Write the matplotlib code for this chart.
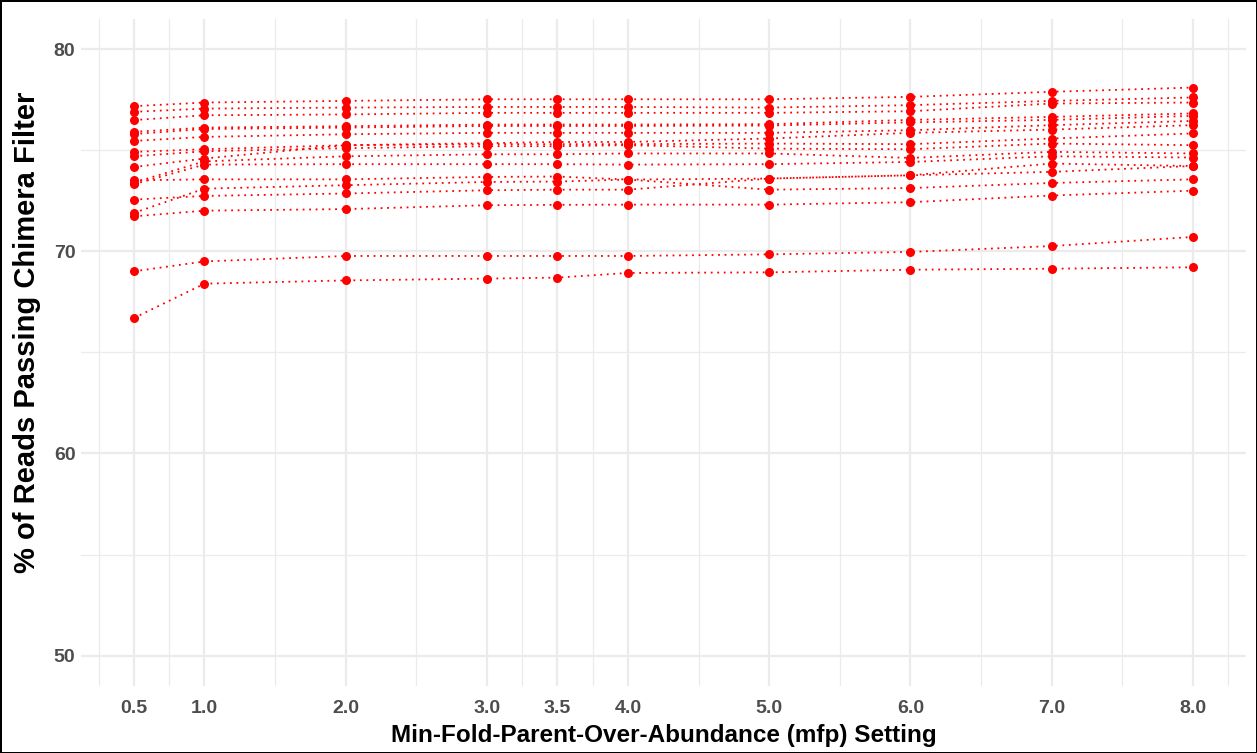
import numpy as np
import matplotlib.pyplot as plt
from matplotlib.ticker import FixedLocator

# mfp settings on the x axis
mfp = [0.5, 1.0, 2.0, 3.0, 3.5, 4.0, 5.0, 6.0, 7.0, 8.0]
mfp_labels = ["0.5", "1.0", "2.0", "3.0", "3.5", "4.0", "5.0", "6.0", "7.0", "8.0"]

# % of reads passing chimera filter, one list per sample
s01 = [77.18, 77.36, 77.44, 77.52, 77.52, 77.52, 77.52, 77.64, 77.89, 78.10]
s02 = [76.90, 77.06, 77.11, 77.14, 77.14, 77.14, 77.11, 77.23, 77.44, 77.61]
s03 = [76.49, 76.73, 76.77, 76.85, 76.85, 76.85, 76.85, 76.93, 77.31, 77.36]
s04 = [75.91, 76.12, 76.19, 76.27, 76.27, 76.27, 76.29, 76.50, 76.65, 76.82]
s05 = [75.80, 76.05, 76.12, 76.20, 76.20, 76.20, 76.22, 76.38, 76.50, 76.70]
s06 = [75.46, 75.66, 75.79, 75.86, 75.86, 75.86, 75.86, 75.99, 76.24, 76.45]
s07 = [74.17, 74.59, 75.25, 75.35, 75.41, 75.41, 75.58, 75.86, 76.02, 76.24]
s08 = [74.92, 75.05, 75.25, 75.30, 75.30, 75.30, 75.33, 75.30, 75.58, 75.83]
s09 = [74.70, 74.95, 75.10, 75.20, 75.20, 75.25, 75.08, 75.05, 75.33, 75.25]
s10 = [73.40, 74.45, 74.70, 74.80, 74.80, 74.84, 74.84, 74.62, 74.92, 74.84]
s11 = [73.32, 74.29, 74.31, 74.31, 74.31, 74.29, 74.31, 74.42, 74.70, 74.64]
s12 = [72.56, 72.74, 72.86, 73.02, 73.05, 73.05, 73.60, 73.76, 74.34, 74.22]
s13 = [71.90, 73.10, 73.27, 73.43, 73.45, 73.55, 73.60, 73.76, 73.93, 74.22]
s14 = [73.51, 73.56, 73.56, 73.68, 73.70, 73.55, 73.05, 73.13, 73.38, 73.56]
s15 = [71.73, 72.01, 72.09, 72.28, 72.30, 72.31, 72.31, 72.43, 72.76, 73.00]
s16 = [69.01, 69.50, 69.77, 69.77, 69.77, 69.77, 69.85, 69.97, 70.26, 70.71]
s17 = [66.70, 68.40, 68.56, 68.65, 68.70, 68.93, 68.96, 69.09, 69.14, 69.21]

samples = [s01, s02, s03, s04, s05, s06, s07, s08, s09, s10,
           s11, s12, s13, s14, s15, s16, s17]

y_ticks = [50, 60, 70, 80]

plt.rcParams['font.family'] = ['Liberation Sans', 'DejaVu Sans']

fig = plt.figure(figsize=(12.57, 7.53), dpi=100, edgecolor='black', linewidth=2)
ax = fig.add_axes([0.0644, 0.089, 0.9266, 0.886])

for s in samples:
    ax.plot(mfp, s, color='red', linestyle=(0, (1, 2.6)), linewidth=1.3, zorder=2)
    ax.plot(mfp, s, 'o', color='red', markersize=6.5, markeredgewidth=0, zorder=3)

# ggplot-like limits with 5% expansion
ax.set_xlim(0.125, 8.375)
ax.set_ylim(48.5, 81.5)

ax.xaxis.set_major_locator(FixedLocator(mfp))
ax.set_xticklabels(mfp_labels)
x_minor = [0.25] + [(a + b) / 2 for a, b in zip(mfp[:-1], mfp[1:])] + [8.25]
ax.xaxis.set_minor_locator(FixedLocator(x_minor))
ax.yaxis.set_major_locator(FixedLocator(y_ticks))
ax.yaxis.set_minor_locator(FixedLocator([55, 65, 75]))

ax.grid(which='major', color='#EBEBEB', linewidth=1.6, zorder=0)
ax.grid(which='minor', color='#EBEBEB', linewidth=0.9, zorder=0)
ax.set_axisbelow(True)
for sp in ax.spines.values():
    sp.set_visible(False)
ax.tick_params(which='both', length=0)
ax.tick_params(axis='x', pad=10)
ax.tick_params(axis='y', pad=4)
for lab in ax.get_xticklabels() + ax.get_yticklabels():
    lab.set_fontweight('bold')
    lab.set_fontsize(14)
    lab.set_color('#4D4D4D')

ax.set_xlabel('Min-Fold-Parent-Over-Abundance (mfp) Setting', fontsize=17.5,
              fontweight='bold', labelpad=5)
ax.set_ylabel('% of Reads Passing Chimera Filter', fontsize=21,
              fontweight='bold')
ax.yaxis.set_label_coords(-0.034, 0.53)

fig.savefig('out.png', dpi=100)
